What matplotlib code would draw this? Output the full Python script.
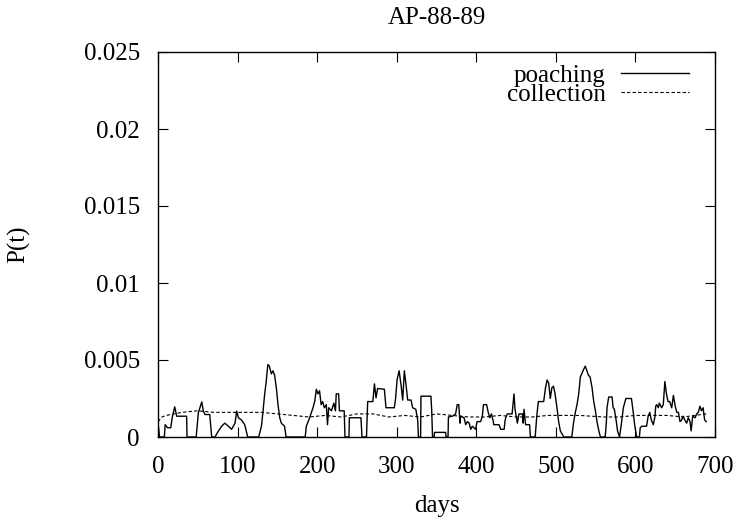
import matplotlib
matplotlib.use("Agg")
import matplotlib.pyplot as plt

title = "AP-88-89"
x_label = "days"
y_label = "P(t)"
x_ticks = [0, 100, 200, 300, 400, 500, 600, 700]
y_ticks = [0, 0.005, 0.01, 0.015, 0.02, 0.025]
y_tick_labels = ["0", "0.005", "0.01", "0.015", "0.02", "0.025"]

poaching_days = [0, 2, 8, 9, 12, 16, 18, 21, 23.5, 36, 36.5, 42, 48, 50.7, 55, 57, 59, 65, 67.5,
                 71.6, 75.8, 80, 84, 88.4, 92.5, 96.8, 98.9, 101, 105, 109, 112.7,
                 126.5, 130, 132, 134, 136, 138, 140, 142.4, 144.5, 146.6, 148.7, 150.8, 153, 155, 159, 161,
                 185, 186.4, 190.6, 194.8, 197, 199, 201, 203, 205, 207, 209, 211.5, 213, 214.5, 218, 221, 223, 224, 227, 228, 234, 235,
                 240, 240.5, 255, 256.4, 262, 263.5, 270, 272, 274, 276, 284.5, 286.5, 297, 298.6, 300.4, 303, 305.4, 307.5, 309.6, 311.7, 313.8, 318, 320, 324, 326.4, 327.3,
                 330, 330.5, 343, 344, 345, 347, 347.5, 361.5, 362, 364.5, 365, 370, 374, 376, 378, 379.5, 380.4, 384.6, 386.7, 388.8, 391, 393, 395, 399, 401, 405.5, 407.6, 409, 413, 415, 417, 419, 421.4, 422, 428.6, 430.7, 435, 436, 437, 439, 445, 447.4, 448.7, 451.6, 453.7, 458, 459, 460, 462, 467, 468,
                 474, 476, 478, 484.7, 487, 489, 491, 493, 495, 497, 499, 501.4, 503.5, 505.6, 510,
                 520, 522.4, 524.5, 526.6, 528.7, 530.8, 535, 537, 539, 541, 543, 545.5, 547.6, 549.7, 551.7, 554, 556,
                 562, 563.5, 564.3, 566.4, 570.6, 572, 573.5, 576, 577.5, 580,
                 582.7, 584.8, 588, 595, 597, 599, 601.5, 605, 606, 608, 614, 616, 618, 620, 622.5, 624.6, 625.5, 626.7, 628.8, 630, 633, 635, 637, 639, 641, 643, 645.6, 647.7, 650, 652, 654, 656, 658, 660, 662, 664.4, 666.5, 668.6, 670, 672, 675, 677, 679, 681, 683, 685, 687, 689]
poaching_vals = [0.0009, 0.0, 0.0, 0.0008, 0.0006, 0.0006, 0.0013, 0.00196, 0.00135, 0.00135, 0.0, 0.0, 0.0, 0.00157, 0.00228, 0.00168, 0.00146, 0.00146, 0.0,
                 0.0, 0.00038, 0.0007, 0.0009, 0.0007, 0.0005, 0.0009, 0.00168, 0.00125, 0.0011, 0.0008, 0.0,
                 0.0, 0.0007, 0.00168, 0.00276, 0.0036, 0.0047, 0.0046, 0.0041, 0.0043, 0.0040, 0.0032, 0.0021, 0.00125, 0.0009, 0.0007, 0.0,
                 0.0, 0.0007, 0.00125, 0.0019, 0.00233, 0.0031, 0.0028, 0.0030, 0.0021, 0.0023, 0.0019, 0.0021, 0.0008, 0.0019, 0.0017, 0.0022, 0.0017, 0.0028, 0.0028, 0.0017, 0.0017, 0.0,
                 0.0, 0.00125, 0.00125, 0.0, 0.0, 0.0023, 0.0023, 0.00345, 0.00254, 0.00315, 0.0031, 0.0019, 0.0019, 0.0025, 0.0037, 0.0043, 0.0034, 0.0024, 0.0043, 0.0034, 0.0024, 0.0024, 0.0019, 0.0018, 0.0011, 0.0,
                 0.0, 0.00265, 0.00265, 0.0017, 0.0, 0.0, 0.0003, 0.0003, 0.0, 0.0, 0.0013, 0.00135, 0.0015, 0.0021, 0.0021, 0.0009, 0.00135, 0.00125, 0.0008, 0.001, 0.0009, 0.0005, 0.0007, 0.0005, 0.001, 0.001, 0.00135, 0.0021, 0.0021, 0.0016, 0.00125, 0.0015, 0.001, 0.0008, 0.0008, 0.0005, 0.0005, 0.001, 0.00125, 0.0015, 0.0015, 0.0028, 0.0018, 0.0009, 0.0015, 0.0015, 0.0009, 0.0018, 0.0008, 0.0008, 0.0,
                 0.0, 0.00135, 0.0023, 0.0023, 0.0032, 0.0037, 0.0035, 0.0025, 0.0032, 0.0033, 0.0028, 0.0019, 0.001, 0.0004, 0.0,
                 0.0, 0.001, 0.0016, 0.0021, 0.0028, 0.0039, 0.0044, 0.0046, 0.0043, 0.0040, 0.0039, 0.0032, 0.0023, 0.0017, 0.001, 0.0004, 0.0,
                 0.0, 0.001, 0.0019, 0.0026, 0.0026, 0.0019, 0.0018, 0.001, 0.0004, 0.0,
                 0.001, 0.0019, 0.0025, 0.0025, 0.0017, 0.0008, 0.0, 0.0, 0.0006, 0.0007, 0.0007, 0.00135, 0.0016, 0.0011, 0.0008, 0.00135, 0.002, 0.0021, 0.0019, 0.0022, 0.0019, 0.0021, 0.0036, 0.0028, 0.0023, 0.0023, 0.0019, 0.0027, 0.002, 0.0016, 0.0016, 0.001, 0.0011, 0.00135, 0.0011, 0.0009, 0.00125, 0.001, 0.0004, 0.00135, 0.00125, 0.0015, 0.0016, 0.002, 0.0017, 0.0019, 0.0011, 0.001]

collection_days = [0, 5, 10, 20, 30, 50, 70, 100, 130, 150, 170, 190, 210, 230, 250, 270, 290, 310, 330, 350,
                   370, 390, 410, 430, 450, 470, 490, 510, 530, 560, 580, 600, 620, 640, 660, 689]
collection_vals = [0.0010, 0.0013, 0.0014, 0.0015, 0.0016, 0.0017, 0.0016, 0.0016, 0.0016, 0.0015, 0.0014, 0.0013,
                   0.0014, 0.0013, 0.0015, 0.0015, 0.0013, 0.0014, 0.0013, 0.0015, 0.0014, 0.0013, 0.0013, 0.0014,
                   0.0013, 0.0013, 0.0014, 0.0014, 0.0014, 0.0013, 0.0013, 0.0014, 0.0014, 0.0014, 0.0013, 0.0015]

FS = 18
plt.rcParams['font.family'] = ['Liberation Serif', 'DejaVu Serif']
fig = plt.figure(figsize=(7.44, 5.21), dpi=100)
ax = fig.add_axes([158/744, 1-437/521, (715-158)/744, (437-52)/521])

ax.plot(poaching_days, poaching_vals, color='black', lw=1.0, label='poaching')
ax.plot(collection_days, collection_vals, color='black', lw=0.8, linestyle=(0, (3, 2)), label='collection')

ax.set_xlim(0, 700)
ax.set_ylim(0, 0.025)
ax.set_xticks(x_ticks)
ax.set_xticklabels([str(t) for t in x_ticks])
ax.set_yticks(y_ticks)
ax.set_yticklabels(y_tick_labels)
ax.tick_params(direction='in', top=True, right=True, length=7, width=0.8, labelsize=FS)
ax.tick_params(axis='y', pad=13)
ax.tick_params(axis='x', pad=14)
for s in ax.spines.values():
    s.set_linewidth(1.0)

ax.set_title(title, fontsize=FS, pad=20)
ax.set_xlabel(x_label, fontsize=FS)
ax.set_ylabel(y_label, fontsize=FS)
ax.xaxis.set_label_coords(0.5, -0.179)
ax.yaxis.set_label_coords(-0.251, 0.5)
ax.xaxis.label.set_va('center')
ax.yaxis.label.set_va('center')

leg = ax.legend(loc='upper right', markerfirst=False, frameon=False, fontsize=FS,
                handlelength=2.7, handletextpad=0.62, labelspacing=-0.13,
                borderaxespad=0.0, borderpad=0.0, bbox_to_anchor=(0.953, 0.968))
for t in leg.get_texts():
    t.set_ha('right')

fig.savefig('out.png', dpi=100)
